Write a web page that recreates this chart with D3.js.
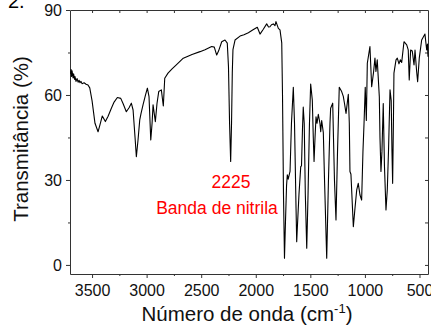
<!DOCTYPE html>
<html>
<head>
<meta charset="utf-8">
<script src="https://cdn.jsdelivr.net/npm/d3@7"></script>
<style>
  body { margin: 0; background: #fff; }
  svg { display: block; font-family: "Liberation Sans", Arial, sans-serif; }
</style>
</head>
<body>
<svg id="chart" width="431" height="332"></svg>
<script>
// wavenumber (cm-1) and transmittance (%)
const waveNumbers = [3697,3692,3688,3683,3674,3669,3660,3656,3647,3637,3628,3619,3610,3601,3592,3573,3555,3537,3521,3500,
  3473,3445,3427,3406,3378,3353,3323,3298,3268,3237,3216,3186,3161,3140,3124,3106,3094,3079,3063,3051,
  3033,3010,2993,2978,2962,2950,2941,2920,2905,2889,2865,2847,2834,2804,2767,2728,2664,2584,2511,2465,
  2404,2380,2358,2341,2312,2282,2261,2250,2240,2230,2222,2215,2209,2190,2144,2108,2068,2025,1986,1961,
  1931,1900,1883,1870,1856,1839,1824,1815,1793,1778,1762,1755,1746,1737,1728,1718,1711,1703,1686,1673,
  1656,1645,1631,1625,1620,1604,1588,1581,1572,1565,1556,1546,1533,1521,1508,1497,1482,1473,1466,1457,
  1448,1439,1427,1412,1405,1396,1381,1370,1350,1334,1320,1314,1295,1288,1279,1265,1251,1235,1213,1198,
  1187,1173,1152,1143,1137,1128,1106,1091,1075,1061,1045,1030,1018,1008,997,987,978,954,938,921,
  908,899,887,868,862,853,844,832,821,807,795,784,770,759,752,746,739,734,715,703,
  688,676,663,642,617,603,594,581,566,550,541,526,517,502,480,450,434,427,422];
const transmittance = [67.5,69,66.5,68.5,66,67.5,65.5,66.5,64.8,65.8,64.5,65.2,64.3,64.8,64,64.3,63.8,63.5,62.5,58,
  50,47,49.5,52.6,50.6,52.5,55.3,57.5,59.1,58.8,57,54.1,55.5,57.1,54.7,45,38.2,44,51.2,53.5,
  56.5,60,62.4,59.4,44.1,50,56.5,50.6,57,61.2,61.8,56.1,65.9,67.7,69.2,70.6,73,74.3,75.3,76,
  77.1,76.9,74.1,75.5,78.8,79.4,78.3,70,50,36.5,50,68,76,79.4,80.8,81.3,82,83,83.9,81.5,
  83.2,85.1,84,84.1,84.8,85.1,84.5,85.9,83.5,83,78.4,60,25,2.4,15,28,31.8,30.3,33,50,
  62.7,50,20,8.2,12.4,25,34.7,35,48,55.7,50,25,5.9,25,50,63.9,58.2,45,36.5,45,
  52.3,50,53.2,50,47,51,46.7,30,2.4,30,50,55.3,57.1,45,30,15.9,40,62.7,61.2,59.5,
  57,53.5,60.2,50,33,32,13.5,20,26.5,28.8,24.7,22.9,40,50,62.7,51,71.2,77.1,62.9,68,
  73,68.3,72.4,59.4,45,33,40,57,35,19.4,26.5,40,61.8,58,40,28.8,50,67.7,72.4,73,
  71,72.4,71.5,78.8,77.7,75.9,65.3,75.9,75.5,70.6,75.9,68.3,64.7,73,79.4,81.5,75.9,78,73.5];

const xMajor = [3500, 3000, 2500, 2000, 1500, 1000, 500];
const xMinor = [3250, 2750, 2250, 1750, 1250, 750];
const yMajor = [0, 30, 60, 90];
const yMinor = [15, 45, 75];

const svg = d3.select("#chart");
const plotLeft = 70, plotRight = 428, plotTop = 10, plotBottom = 274;

const x = d3.scaleLinear().domain([3702, 422]).range([plotLeft, plotRight]);
const y = d3.scaleLinear().domain([-3.2, 90]).range([plotBottom, plotTop]);

const axisColor = "#333";
const fmt = d3.format("d");

// bottom axis
svg.append("g").attr("transform", "translate(0," + plotBottom + ")")
  .call(d3.axisBottom(x).tickValues(xMajor).tickFormat(fmt).tickSize(4).tickSizeOuter(0).tickPadding(7));
svg.append("g").attr("transform", "translate(0," + plotBottom + ")")
  .call(d3.axisBottom(x).tickValues(xMinor).tickSize(2).tickFormat("").tickSizeOuter(0))
  .select(".domain").remove();

// left axis
svg.append("g").attr("transform", "translate(" + plotLeft + ",0)")
  .call(d3.axisLeft(y).tickValues(yMajor).tickFormat(fmt).tickSize(4).tickSizeOuter(0).tickPadding(4));
svg.append("g").attr("transform", "translate(" + plotLeft + ",0)")
  .call(d3.axisLeft(y).tickValues(yMinor).tickSize(2).tickFormat("").tickSizeOuter(0))
  .select(".domain").remove();

// top and right, ticks inside
svg.append("g").attr("transform", "translate(0," + plotTop + ")")
  .call(d3.axisBottom(x).tickValues(xMajor.concat(xMinor)).tickSize(3).tickFormat("").tickSizeOuter(0));
svg.append("g").attr("transform", "translate(" + plotRight + ",0)")
  .call(d3.axisLeft(y).tickValues(yMajor.concat(yMinor)).tickSize(3).tickFormat("").tickSizeOuter(0));

svg.selectAll(".domain, .tick line").attr("stroke", axisColor).attr("stroke-width", 1);
svg.selectAll(".tick text").attr("font-size", 16).attr("fill", "#111")
  .attr("font-family", "Liberation Sans, Arial, sans-serif");

// spectrum
const pts = waveNumbers.map((w, i) => [w, transmittance[i]]);
const line = d3.line().x(d => x(d[0])).y(d => y(d[1]));
svg.append("path").datum(pts)
  .attr("d", line)
  .attr("fill", "none")
  .attr("stroke", "#000")
  .attr("stroke-width", 1.1)
  .attr("stroke-linejoin", "round");

// annotation
svg.append("text").attr("x", 231).attr("y", 188).attr("text-anchor", "middle")
  .attr("font-size", 17.5).attr("fill", "#ff0000").text("2225");
svg.append("text").attr("x", 217).attr("y", 214).attr("text-anchor", "middle")
  .attr("font-size", 17.5).attr("fill", "#ff0000").text("Banda de nitrila");

// axis titles
svg.append("text")
  .attr("transform", "translate(28,139) rotate(-90)")
  .attr("text-anchor", "middle").attr("font-size", 20.5).attr("fill", "#111")
  .text("Transmitância (%)");

const xt = svg.append("text").attr("x", 247).attr("y", 321).attr("text-anchor", "middle")
  .attr("font-size", 20.5).attr("fill", "#111");
xt.append("tspan").text("Número de onda (cm");
xt.append("tspan").attr("dy", -8).attr("font-size", 13).text("-1");
xt.append("tspan").attr("dy", 8).text(")");

// panel label, cut off at the top as in the source figure
svg.append("text").attr("x", 8).attr("y", 8).attr("font-size", 20).attr("fill", "#000").text("2.");
</script>
</body>
</html>
